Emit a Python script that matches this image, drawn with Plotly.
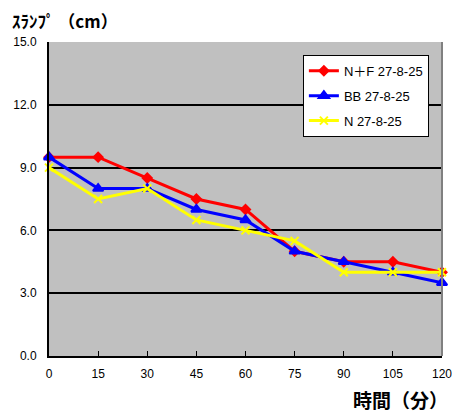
import plotly.graph_objects as go

minutes = [0, 15, 30, 45, 60, 75, 90, 105, 120]
nf_slump = [9.5, 9.5, 8.5, 7.5, 7.0, 5.0, 4.5, 4.5, 4.0]
bb_slump = [9.5, 8.0, 8.0, 7.0, 6.5, 5.0, 4.5, 4.0, 3.5]
n_slump = [9.0, 7.5, 8.0, 6.5, 6.0, 5.5, 4.0, 4.0, 4.0]

series = [
    ("N＋F 27-8-25", nf_slump, "#FF0000", "diamond", 7),
    ("BB 27-8-25", bb_slump, "#0000FF", "triangle-up", 9),
    ("N 27-8-25", n_slump, "#FFFF00", "x-thin", 8),
]

fig = go.Figure()
for name, vals, color, symbol, size in series:
    fig.add_trace(go.Scatter(
        x=minutes, y=vals, name=name, mode="lines+markers",
        legendgroup=name, cliponaxis=False,
        line=dict(color=color, width=3),
        marker=dict(symbol=symbol, size=size, color=color,
                    line=dict(color=color, width=2)),
    ))

jp_font = "Noto Sans CJK JP, sans-serif"
num_font = "Liberation Sans, Arial, Noto Sans CJK JP, sans-serif"

fig.update_layout(
    width=452, height=413,
    margin=dict(l=49, r=10, t=42, b=57),
    paper_bgcolor="white",
    plot_bgcolor="#C0C0C0",
    font=dict(family=num_font, size=12, color="black"),
    showlegend=True,
    legend=dict(
        x=0.646, y=0.959, xanchor="left", yanchor="top",
        bgcolor="white", bordercolor="black", borderwidth=1,
        font=dict(size=13, family=num_font), tracegroupgap=5,
    ),
    annotations=[
        dict(text="<b>ｽﾗﾝﾌﾟ （cm）</b>", xref="paper", yref="paper",
             x=-0.099, y=1.07, xanchor="left", yanchor="middle",
             showarrow=False, font=dict(size=17, family=jp_font)),
        dict(text="<b>時間（分）</b>", xref="paper", yref="paper",
             x=1.02, y=-0.14, xanchor="right", yanchor="middle",
             showarrow=False, font=dict(size=19, family=jp_font)),
    ],
    shapes=[
        dict(type="line", xref="paper", yref="paper", x0=1, x1=1, y0=0, y1=1,
             line=dict(color="#808080", width=2)),
    ],
)
fig.update_xaxes(
    range=[0, 120], tickvals=minutes, showgrid=False, zeroline=False,
    showline=True, linecolor="black", linewidth=2, automargin=False,
    ticks="inside", ticklen=5, tickcolor="black", tickwidth=1,
    ticklabelstandoff=6, ticklabeloverflow="allow",
)
fig.update_yaxes(
    range=[0, 15], dtick=3, tickformat=".1f", showgrid=True,
    gridcolor="black", gridwidth=1.5, zeroline=False,
    showline=True, linecolor="black", linewidth=2, automargin=False,
    ticks="", ticklabelstandoff=8,
)

# drop the default 8px body margin so the figure fills the window exactly
fig.write_html(
    "out.html",
    config={"displayModeBar": False},
    post_script="document.body.style.margin='0';document.body.style.overflow='hidden';",
)
